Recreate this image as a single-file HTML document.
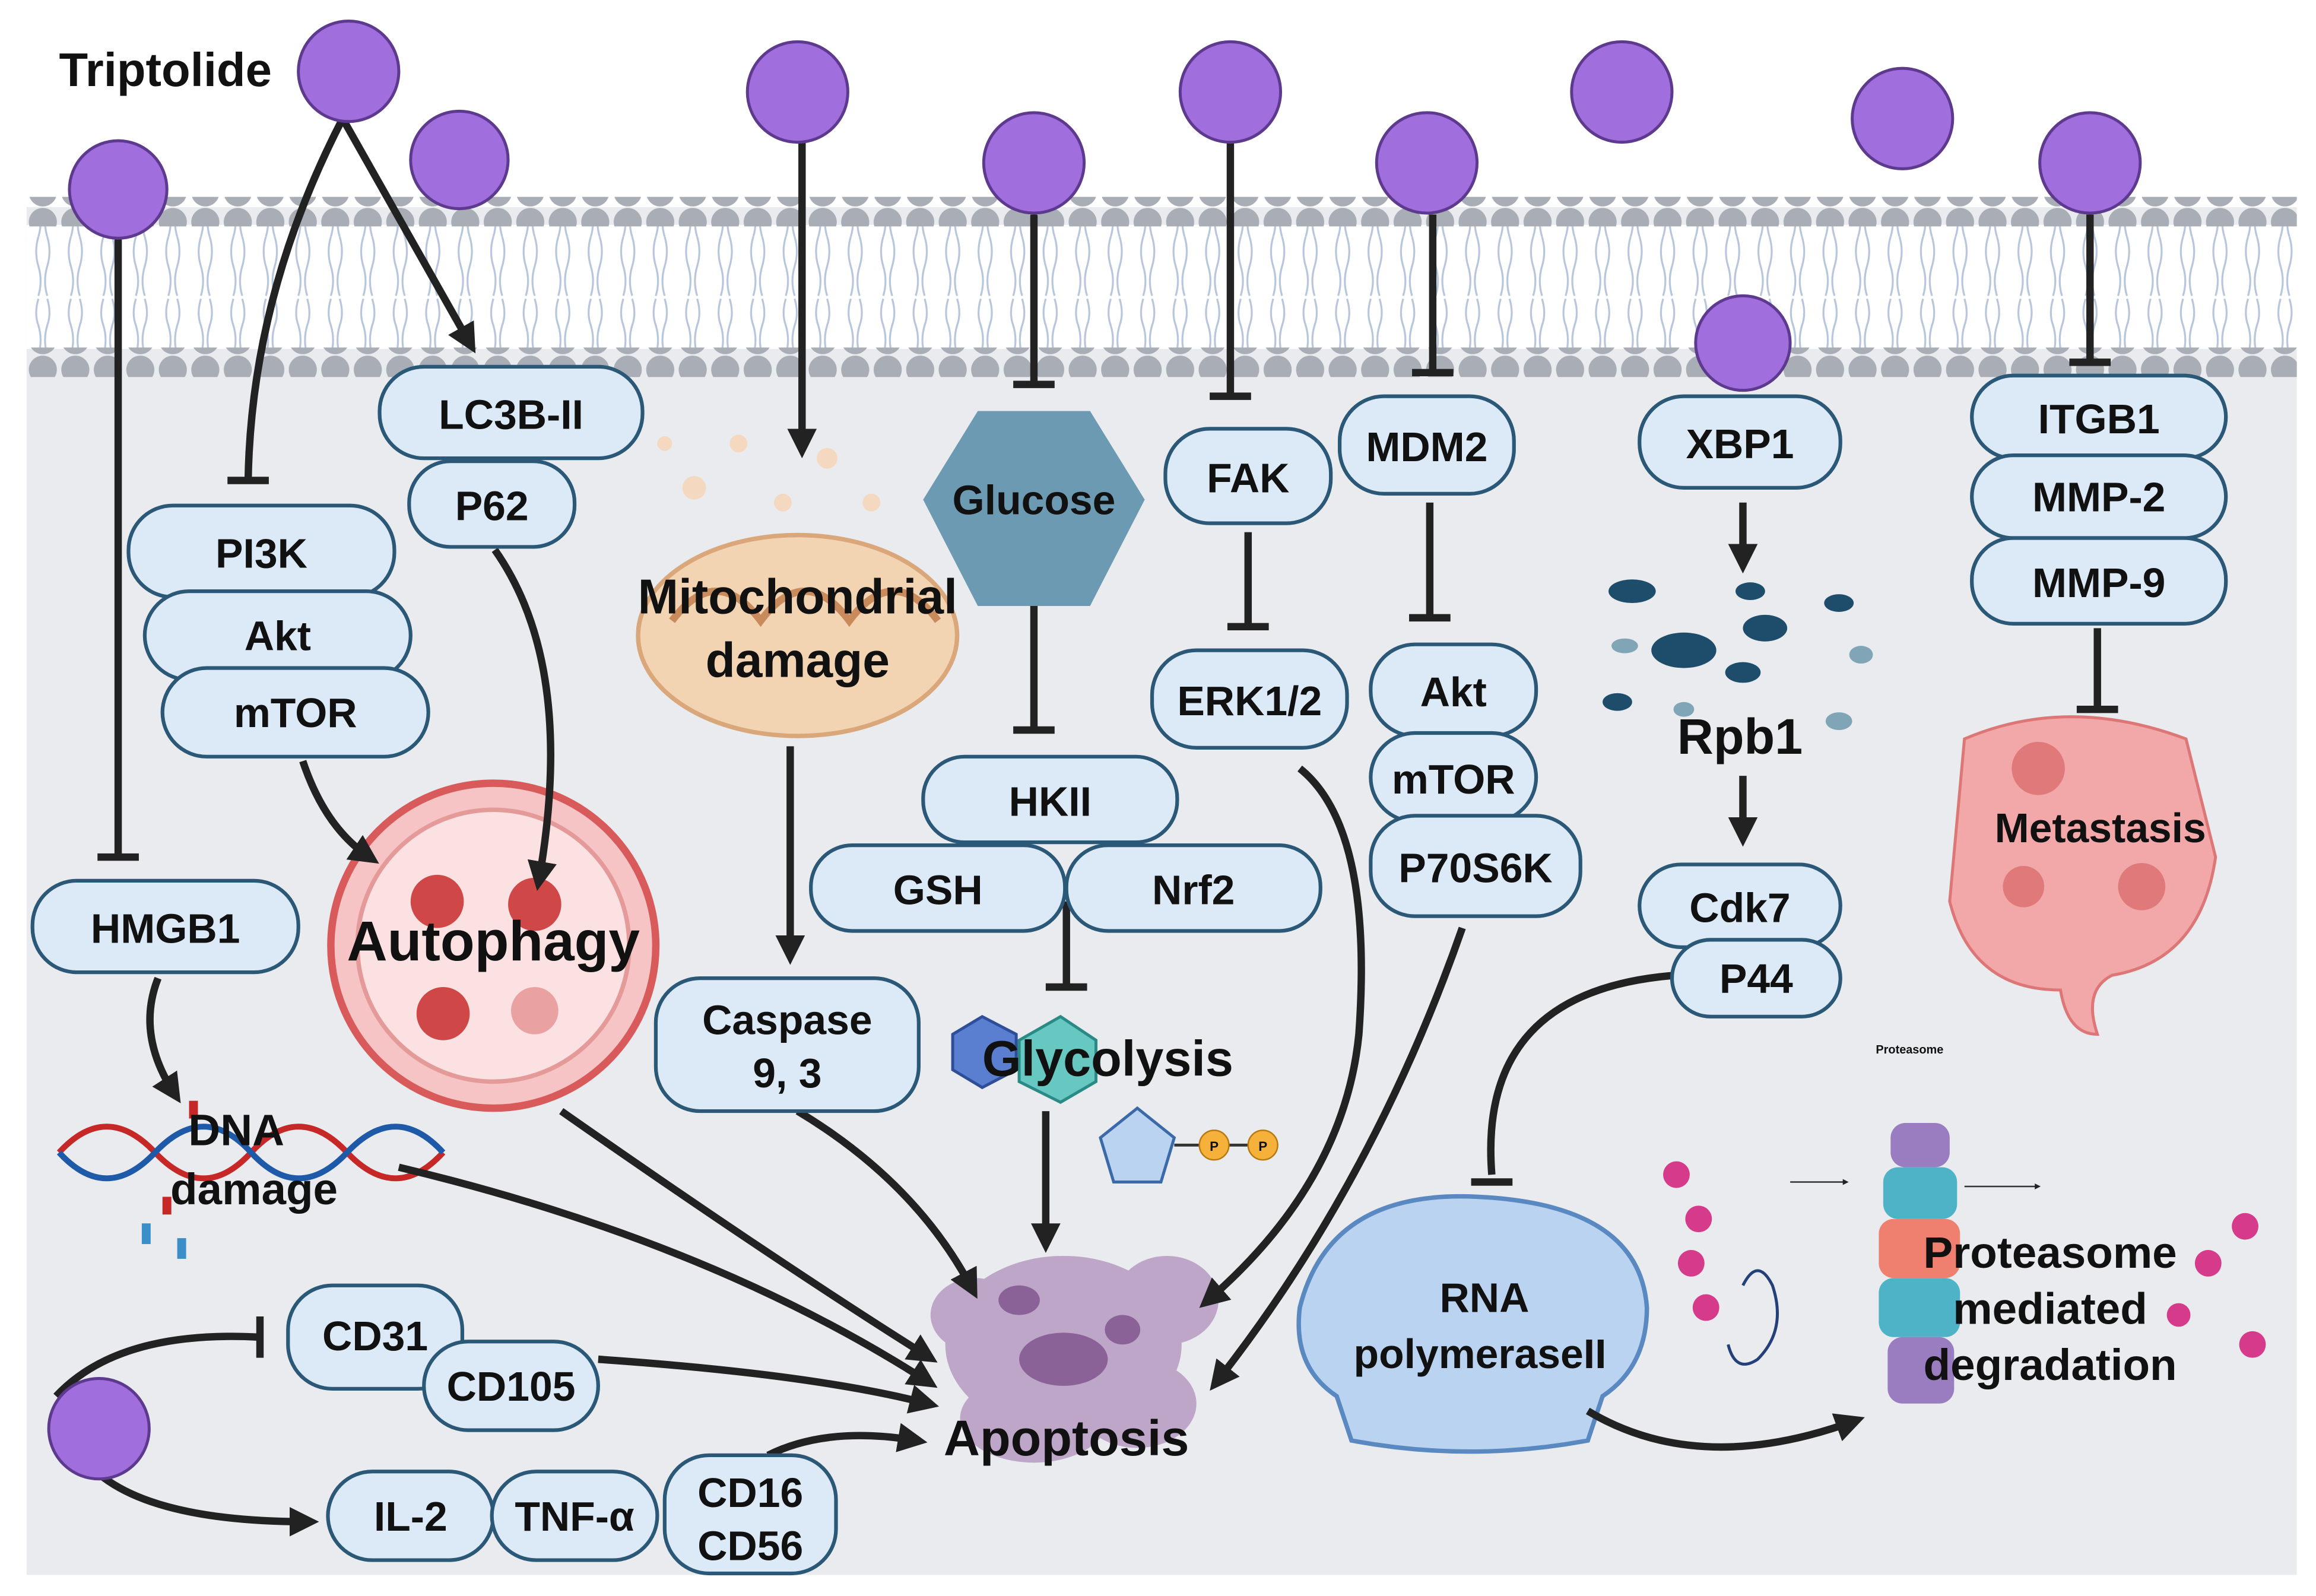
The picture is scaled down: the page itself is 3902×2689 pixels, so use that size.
<!DOCTYPE html>
<html><head><meta charset="utf-8"><style>
html,body{margin:0;padding:0;background:#fff}
svg{display:block}
text{font-family:"Liberation Sans",sans-serif;font-weight:bold;fill:#111}
</style></head><body>
<svg width="3902" height="2689" viewBox="0 0 1568 1080" xmlns="http://www.w3.org/2000/svg">
<defs>
<marker id="ah" viewBox="0 0 10 10" refX="6" refY="5" markerWidth="4" markerHeight="4" orient="auto"><path d="M0,0 L10,5 L0,10 Z" fill="#222"/></marker>
<pattern id="beads" x="18" y="0" width="22" height="20" patternUnits="userSpaceOnUse"><circle cx="11" cy="10" r="9.5" fill="#a8adb6"/></pattern>
<pattern id="tails" x="18" y="0" width="22" height="80" patternUnits="userSpaceOnUse"><path d="M8,0 q-3,10 0,20 q3,10 0,20 M14,0 q3,10 0,20 q-3,10 0,20 M8,42 q-3,10 0,18 q3,10 0,20 M14,42 q3,10 0,18 q-3,10 0,20" stroke="#b8c6dc" stroke-width="1.3" fill="none"/></pattern>
</defs>
<rect x="18" y="140" width="1537" height="926" fill="#e9ebee"/>
<rect x="18" y="152" width="1537" height="84" fill="#fff"/>
<rect x="18" y="152" width="1537" height="84" fill="url(#tails)"/>
<rect x="18" y="133" width="1537" height="20" fill="url(#beads)"/>
<rect x="18" y="235" width="1537" height="20" fill="url(#beads)"/>

<!-- organelles -->
<ellipse cx="540" cy="430" rx="108" ry="68" fill="#f2d3b2" stroke="#d9a77a" stroke-width="3"/>
<path d="M455,420 q30,-40 60,0 q30,-40 60,0 q30,-40 60,0" stroke="#c98b5b" stroke-width="5" fill="none"/>
<g fill="#f4d9c0"><circle cx="470" cy="330" r="8"/><circle cx="500" cy="300" r="6"/><circle cx="560" cy="310" r="7"/><circle cx="450" cy="300" r="5"/><circle cx="530" cy="340" r="6"/><circle cx="590" cy="340" r="6"/></g>
<polygon points="625,338 662,278 738,278 775,338 738,410 662,410" fill="#6d9ab3"/>
<circle cx="334" cy="640" r="110" fill="#f6c4c4" stroke="#d95a5a" stroke-width="5"/>
<circle cx="334" cy="640" r="92" fill="#fbe1e1" stroke="#e59a9a" stroke-width="3"/>
<g fill="#cf4747"><circle cx="296" cy="610" r="18"/><circle cx="362" cy="612" r="18"/><circle cx="300" cy="686" r="18"/></g><circle cx="362" cy="684" r="16" fill="#e9a1a1"/>
<!-- apoptosis -->
<g fill="#b79ac2" opacity="0.85"><ellipse cx="720" cy="910" rx="80" ry="60"/><ellipse cx="660" cy="890" rx="30" ry="25"/><ellipse cx="790" cy="880" rx="35" ry="30"/><ellipse cx="700" cy="960" rx="50" ry="30"/><ellipse cx="770" cy="950" rx="40" ry="30"/></g>
<g fill="#8a6297"><ellipse cx="720" cy="920" rx="30" ry="18"/><ellipse cx="690" cy="880" rx="14" ry="10"/><ellipse cx="760" cy="900" rx="12" ry="10"/></g>
<!-- metastasis -->
<g fill="#f2a8a8" stroke="#d77" stroke-width="2"><path d="M1330,500 q70,-30 150,0 l20,80 q-10,70 -70,80 q-20,10 -10,40 q-20,0 -25,-30 q-60,0 -75,-60 z"/></g>
<g fill="#e07a7a"><circle cx="1380" cy="520" r="18"/><circle cx="1450" cy="600" r="16"/><circle cx="1370" cy="600" r="14"/></g>
<!-- Rpb1 fragments -->
<g fill="#1e4d6b"><ellipse cx="1105" cy="400" rx="16" ry="8"/><ellipse cx="1140" cy="440" rx="22" ry="12"/><ellipse cx="1195" cy="425" rx="15" ry="9"/><ellipse cx="1245" cy="408" rx="10" ry="6"/><ellipse cx="1180" cy="455" rx="12" ry="7"/><ellipse cx="1185" cy="400" rx="10" ry="6"/><ellipse cx="1095" cy="475" rx="10" ry="6"/></g>
<g fill="#7fa5b6"><ellipse cx="1100" cy="437" rx="9" ry="5"/><ellipse cx="1260" cy="443" rx="8" ry="6"/><ellipse cx="1245" cy="488" rx="9" ry="6"/><ellipse cx="1140" cy="480" rx="7" ry="5"/></g>
<!-- DNA -->
<path d="M40,780 q32,-35 65,0 t65,0 t65,0 t65,0" stroke="#c62828" stroke-width="4" fill="none"/>
<path d="M40,780 q32,35 65,0 t65,0 t65,0 t65,0" stroke="#1e5aa8" stroke-width="4" fill="none"/>
<g fill="#3a8fc9"><rect x="96" y="828" width="6" height="14"/><rect x="120" y="838" width="6" height="14"/></g><g fill="#c62828"><rect x="110" y="810" width="6" height="12"/><rect x="128" y="745" width="6" height="12"/></g>
<!-- RNA pol -->
<path d="M880,885 q20,-80 120,-75 q110,5 115,75 q0,40 -30,60 l-10,30 q-80,15 -160,0 l-10,-30 q-30,-20 -25,-60z" fill="#b9d3f0" stroke="#5a88c0" stroke-width="3"/>
<!-- proteasome -->
<g><rect x="1280" y="760" width="40" height="30" rx="10" fill="#9a7cc0"/><rect x="1275" y="790" width="50" height="35" rx="10" fill="#4fb3c8"/><rect x="1272" y="825" width="55" height="40" rx="10" fill="#ef7f6f"/><rect x="1272" y="865" width="55" height="40" rx="10" fill="#4fb3c8"/><rect x="1278" y="905" width="45" height="45" rx="10" fill="#9a7cc0"/></g>
<g fill="#d63a8a"><circle cx="1135" cy="795" r="9"/><circle cx="1150" cy="825" r="9"/><circle cx="1145" cy="855" r="9"/><circle cx="1155" cy="885" r="9"/><circle cx="1495" cy="855" r="9"/><circle cx="1520" cy="830" r="9"/><circle cx="1525" cy="910" r="9"/><circle cx="1475" cy="890" r="8"/></g>
<path d="M1180,870 q10,-20 20,0 q10,30 -10,50 q-15,10 -20,-10" stroke="#24407a" stroke-width="2" fill="none"/>
<line x1="1212" y1="800" x2="1250" y2="800" stroke="#333" stroke-width="1" marker-end="url(#ah)"/>
<line x1="1330" y1="803" x2="1380" y2="803" stroke="#333" stroke-width="1" marker-end="url(#ah)"/>
<text x="1270" y="713" font-size="8">Proteasome</text>

<!-- connectors -->
<g stroke="#222" stroke-width="5" fill="none">
<path d="M80,160 V580 M66,580 H94"/>
<path d="M232,80 Q170,200 168,325 M154,325 H182"/>
<path d="M232,80 L318,232" marker-end="url(#ah)"/>
<path d="M543,95 V302" marker-end="url(#ah)"/>
<path d="M700,145 V260 M686,260 H714"/>
<path d="M833,95 V268 M819,268 H847"/>
<path d="M970,145 V252 M956,252 H984"/>
<path d="M1415,145 V245 M1401,245 H1429"/>
<path d="M845,360 V424 M831,424 H859"/>
<path d="M968,340 V418 M954,418 H982"/>
<path d="M1180,340 V380" marker-end="url(#ah)"/>
<path d="M1180,525 V565" marker-end="url(#ah)"/>
<path d="M700,410 V494 M686,494 H714"/>
<path d="M722,610 V668 M708,668 H736"/>
<path d="M1420,425 V480 M1406,480 H1434"/>
<path d="M335,372 Q390,450 365,595" marker-end="url(#ah)"/>
<path d="M205,515 Q220,560 250,580" marker-end="url(#ah)"/>
<path d="M107,662 Q92,700 118,740" marker-end="url(#ah)"/>
<path d="M535,505 V645" marker-end="url(#ah)"/>
<path d="M1135,660 Q1000,670 1010,795 M996,800 H1024"/>
<path d="M880,520 Q930,560 920,700 Q910,800 818,880" marker-end="url(#ah)"/>
<path d="M990,628 Q930,800 824,935" marker-end="url(#ah)"/>
<path d="M540,752 Q620,800 658,872" marker-end="url(#ah)"/>
<path d="M380,752 Q520,850 628,918" marker-end="url(#ah)"/>
<path d="M270,790 Q480,840 628,935" marker-end="url(#ah)"/>
<path d="M708,752 V840" marker-end="url(#ah)"/>
<path d="M405,920 Q550,930 628,950" marker-end="url(#ah)"/>
<path d="M520,985 Q560,965 620,975" marker-end="url(#ah)"/>
<path d="M1075,955 Q1150,1000 1255,962" marker-end="url(#ah)"/>
<path d="M38,945 Q80,900 175,905 M176,891 V919"/>
<path d="M70,1000 Q110,1030 208,1030" marker-end="url(#ah)"/>
</g>

<!-- glycolysis shapes -->
<polygon points="645,700 665,688 688,700 688,724 665,736 645,724" fill="#5a7fd0" stroke="#2f4e9a" stroke-width="2"/>
<polygon points="690,704 718,688 742,704 742,732 718,746 690,732" fill="#66c8c0" stroke="#2a8a85" stroke-width="2"/>
<polygon points="770,750 795,770 786,800 754,800 745,770" fill="#b9d3f0" stroke="#3a6aa8" stroke-width="2"/>
<line x1="795" y1="775" x2="855" y2="775" stroke="#333" stroke-width="2"/>
<circle cx="822" cy="775" r="10" fill="#f5b13a" stroke="#b87a10"/><circle cx="855" cy="775" r="10" fill="#f5b13a" stroke="#b87a10"/>
<text x="822" y="779" font-size="9" text-anchor="middle">P</text><text x="855" y="779" font-size="9" text-anchor="middle">P</text>

<!-- purple ligands -->
<g fill="#a06fdd" stroke="#5d3a8e" stroke-width="2">
<circle cx="236" cy="48" r="34"/><circle cx="80" cy="128" r="33"/><circle cx="311" cy="108" r="33"/><circle cx="540" cy="62" r="34"/><circle cx="700" cy="110" r="34"/><circle cx="833" cy="62" r="34"/><circle cx="966" cy="110" r="34"/><circle cx="1098" cy="62" r="34"/><circle cx="1288" cy="80" r="34"/><circle cx="1415" cy="110" r="34"/><circle cx="1180" cy="232" r="32"/><circle cx="67" cy="967" r="34"/>
</g>

<!-- nodes -->
<g fill="#dceaf7" stroke="#2b5877" stroke-width="2.5">
<rect x="257" y="248" width="178" height="62" rx="30"/>
<rect x="277" y="312" width="112" height="58" rx="28"/>
<rect x="87" y="342" width="180" height="62" rx="30"/>
<rect x="98" y="400" width="180" height="60" rx="30"/>
<rect x="110" y="452" width="180" height="60" rx="30"/>
<rect x="22" y="596" width="180" height="62" rx="30"/>
<rect x="789" y="290" width="112" height="64" rx="30"/>
<rect x="907" y="268" width="118" height="66" rx="30"/>
<rect x="780" y="440" width="132" height="66" rx="30"/>
<rect x="928" y="436" width="112" height="62" rx="30"/>
<rect x="928" y="496" width="112" height="60" rx="30"/>
<rect x="928" y="552" width="142" height="68" rx="30"/>
<rect x="1110" y="268" width="136" height="62" rx="30"/>
<rect x="1110" y="585" width="136" height="56" rx="28"/>
<rect x="1132" y="636" width="114" height="52" rx="26"/>
<rect x="1335" y="254" width="172" height="56" rx="28"/>
<rect x="1335" y="308" width="172" height="56" rx="28"/>
<rect x="1335" y="364" width="172" height="58" rx="28"/>
<rect x="625" y="512" width="172" height="58" rx="28"/>
<rect x="549" y="572" width="172" height="58" rx="28"/>
<rect x="722" y="572" width="172" height="58" rx="28"/>
<rect x="444" y="662" width="178" height="90" rx="30"/>
<rect x="195" y="870" width="118" height="70" rx="30"/>
<rect x="287" y="908" width="118" height="60" rx="30"/>
<rect x="222" y="996" width="112" height="60" rx="30"/>
<rect x="333" y="996" width="112" height="60" rx="30"/>
<rect x="450" y="985" width="116" height="80" rx="30"/>
</g>

<g font-size="28" text-anchor="middle">
<text x="346" y="290">LC3B-II</text><text x="333" y="352">P62</text>
<text x="177" y="384">PI3K</text><text x="188" y="440">Akt</text><text x="200" y="492">mTOR</text>
<text x="112" y="638">HMGB1</text>
<text x="845" y="333">FAK</text><text x="966" y="312">MDM2</text><text x="846" y="484">ERK1/2</text>
<text x="984" y="478">Akt</text><text x="984" y="537">mTOR</text><text x="999" y="597">P70S6K</text>
<text x="1178" y="310">XBP1</text><text x="1178" y="624">Cdk7</text><text x="1189" y="672">P44</text>
<text x="1421" y="293">ITGB1</text><text x="1421" y="346">MMP-2</text><text x="1421" y="404">MMP-9</text>
<text x="711" y="552">HKII</text><text x="635" y="612">GSH</text><text x="808" y="612">Nrf2</text>
<text x="533" y="700">Caspase</text><text x="533" y="736">9, 3</text>
<text x="254" y="914">CD31</text><text x="346" y="948">CD105</text>
<text x="278" y="1036">IL-2</text><text x="389" y="1036">TNF-α</text>
<text x="508" y="1020">CD16</text><text x="508" y="1056">CD56</text>
<text x="700" y="348">Glucose</text>
<text x="1422" y="570">Metastasis</text>
<text x="1178" y="510" font-size="34">Rpb1</text>
<text x="1005" y="888">RNA</text><text x="1002" y="926">polymeraseII</text>
<text x="1388" y="858" font-size="30">Proteasome</text><text x="1388" y="896" font-size="30">mediated</text><text x="1388" y="934" font-size="30">degradation</text>
<text x="540" y="415" font-size="33">Mitochondrial</text><text x="540" y="458" font-size="33">damage</text>
<text x="334" y="650" font-size="38">Autophagy</text>
<text x="750" y="728" font-size="34">Glycolysis</text>
<text x="722" y="985" font-size="34">Apoptosis</text>
<text x="160" y="775" font-size="30">DNA</text><text x="172" y="815" font-size="30">damage</text>
<text x="112" y="58" font-size="32">Triptolide</text>
</g>
</svg>
</body></html>
